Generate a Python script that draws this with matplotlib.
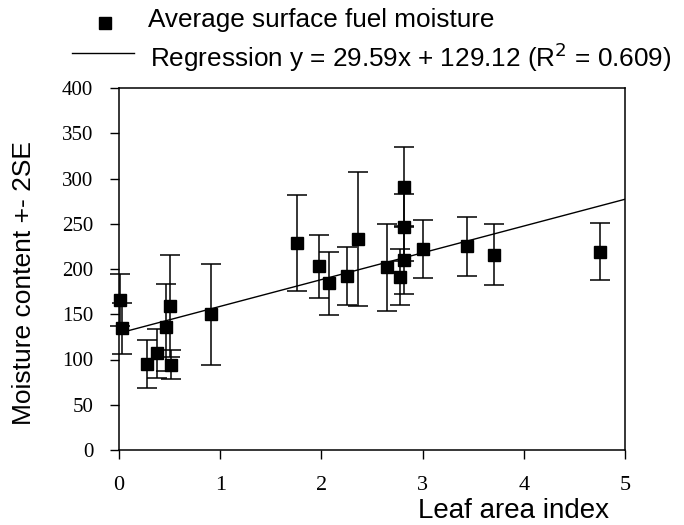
import numpy as np
import matplotlib
matplotlib.use("Agg")
import matplotlib.pyplot as plt
from matplotlib.lines import Line2D

# 叶面积指数与地表燃料含水量（均值 +- 2SE）
lai = [0.014, 0.034, 0.277, 0.378, 0.469, 0.508, 0.511, 0.906,
       1.762, 1.98, 2.08, 2.25, 2.358, 2.645, 2.776, 2.815, 2.815, 2.82,
       3.008, 3.436, 3.706, 4.75]
moisture = [166, 134.6, 95, 107, 135.7, 159, 94, 150,
            229, 203, 184, 192, 233, 202, 191, 290.5, 246, 210,
            222.5, 225, 216, 219]
err_2se = [29, 28, 26, 27, 48, 56, 16, 56,
           53, 35, 35, 32, 74, 48, 31, 44, 37, 38,
           32, 32.5, 34, 31.5]

slope, intercept = 29.59, 129.12
x_ticks = [0, 1, 2, 3, 4, 5]
y_ticks = [0, 50, 100, 150, 200, 250, 300, 350, 400]

serif = "Liberation Serif"
sans = "Liberation Sans"

fig = plt.figure(figsize=(6.84, 5.25), dpi=100)
ax = fig.add_axes([119 / 684, 1 - 450 / 525, (625 - 119) / 684, (450 - 88) / 525])

eb = ax.errorbar(lai, moisture, yerr=err_2se, fmt="s", color="black",
                 markersize=8, capsize=7, elinewidth=1.1, capthick=1.1)
for art in eb.lines[0:1] + tuple(eb.lines[1]) + tuple(eb.lines[2]):
    art.set_clip_on(False)

xr = np.array([min(lai), 5])
ax.plot(xr, slope * xr + intercept, color="black", linewidth=1.0)

ax.set_xlim(0, 5)
ax.set_ylim(0, 400)
ax.set_xticks(x_ticks)
ax.set_yticks(y_ticks)
ax.tick_params(direction="out", length=6.5, width=1)
ax.tick_params(axis="x", pad=12.5)
ax.tick_params(axis="y", pad=12)
for lab in ax.get_xticklabels():
    lab.set_fontfamily(serif)
    lab.set_fontsize(16)
for lab in ax.get_yticklabels():
    lab.set_fontfamily(serif)
    lab.set_fontsize(15)
for sp in ax.spines.values():
    sp.set_linewidth(1.1)

ax.set_xlabel("Leaf area index", fontfamily=sans, fontsize=20)
ax.xaxis.set_label_coords((609 - 119) / 506, -(518.5 - 450) / 362)
ax.xaxis.label.set_horizontalalignment("right")
ax.xaxis.label.set_verticalalignment("baseline")
ax.set_ylabel("Moisture content +- 2SE", fontfamily=sans, fontsize=19)
ax.yaxis.set_label_coords((24 - 119) / 506, (450 - 283) / 362)
ax.yaxis.label.set_verticalalignment("center")

# 图例（放在坐标轴上方）
fig.add_artist(Line2D([105 / 684], [1 - 22.5 / 525], marker="s", color="black",
                      markersize=8.5, linestyle="none"))
fig.text(148 / 684, 1 - 26.7 / 525, "Average surface fuel moisture",
         fontfamily=sans, fontsize=18.8, va="baseline")
fig.add_artist(Line2D([72 / 684, 134 / 684], [1 - 53.3 / 525, 1 - 53.3 / 525],
                      color="black", linewidth=1.0))
fig.text(150 / 684, 1 - 66.7 / 525,
         "Regression y = 29.59x + 129.12 (R$^2$ = 0.609)",
         fontfamily=sans, fontsize=18.8, va="baseline")

fig.savefig("out.png", dpi=100)
